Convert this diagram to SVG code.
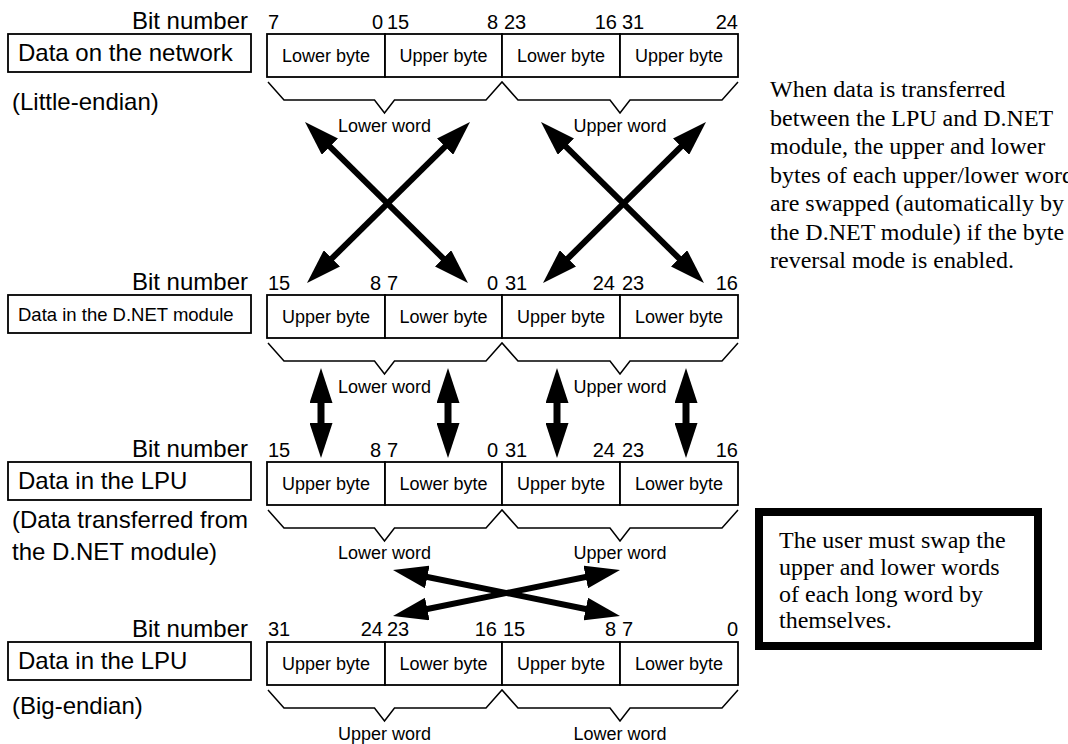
<svg xmlns="http://www.w3.org/2000/svg" width="1068" height="744" viewBox="0 0 1068 744">
<style>
  .lbl{font-family:"Liberation Sans",Arial,sans-serif;font-size:24px;fill:#000}
  .lbls{font-family:"Liberation Sans",Arial,sans-serif;font-size:18.5px;fill:#000}
  .num{font-family:"Liberation Sans",Arial,sans-serif;font-size:20px;fill:#000}
  .cell{font-family:"Liberation Sans",Arial,sans-serif;font-size:18px;fill:#000;text-anchor:middle}
  .word{font-family:"Liberation Sans",Arial,sans-serif;font-size:18px;fill:#000;text-anchor:middle}
  .note{font-family:"Liberation Serif","Times New Roman",serif;font-size:24px;fill:#000}
  .box{fill:#fff;stroke:#000;stroke-width:1.8}
  .brace{fill:none;stroke:#000;stroke-width:1.5;stroke-linejoin:miter}
  .arr{stroke:#000;stroke-width:6;fill:none;marker-start:url(#ah);marker-end:url(#ah)}
  .arrv{stroke:#000;stroke-width:7;fill:none;marker-start:url(#ah);marker-end:url(#ah)}
</style>
<defs>
  <marker id="ah" viewBox="0 0 35 23" refX="10" refY="11.5" markerWidth="35" markerHeight="23" markerUnits="userSpaceOnUse" orient="auto-start-reverse">
    <path d="M0,0 L35,11.5 L0,23 Z" fill="#000"/>
  </marker>
  <g id="cells">
    <rect class="box" x="267" y="0" width="118" height="43"/>
    <rect class="box" x="385" y="0" width="117" height="43"/>
    <rect class="box" x="502" y="0" width="118" height="43"/>
    <rect class="box" x="620" y="0" width="118" height="43"/>
  </g>
  <path id="braces" class="brace" d="M268,48 L284,66 L374.5,66 L384.5,79 L394.5,66 L486,66 L502,48 L518,66 L610,66 L620,79 L630,66 L722,66 L738,48"/>
</defs>

<!-- Row 1 -->
<g id="row1">
  <text class="lbl" x="248" y="29" text-anchor="end">Bit number</text>
  <rect class="box" x="8" y="34" width="243" height="38"/>
  <text class="lbl" x="18" y="61">Data on the network</text>
  <text class="lbl" x="12" y="110">(Little-endian)</text>
  <use href="#cells" transform="translate(0,34)"/>
  <text class="num" x="268" y="29">7</text><text class="num" x="383" y="29" text-anchor="end">0</text>
  <text class="num" x="387" y="29">15</text><text class="num" x="498" y="29" text-anchor="end">8</text>
  <text class="num" x="504" y="29">23</text><text class="num" x="617" y="29" text-anchor="end">16</text>
  <text class="num" x="622" y="29">31</text><text class="num" x="738" y="29" text-anchor="end">24</text>
  <text class="cell" x="326" y="62">Lower byte</text>
  <text class="cell" x="443.5" y="62">Upper byte</text>
  <text class="cell" x="561" y="62">Lower byte</text>
  <text class="cell" x="679" y="62">Upper byte</text>
  <use href="#braces" transform="translate(0,34)"/>
  <text class="word" x="384.5" y="132">Lower word</text>
  <text class="word" x="620" y="132">Upper word</text>
</g>

<!-- Row 2 -->
<g id="row2">
  <text class="lbl" x="248" y="290" text-anchor="end">Bit number</text>
  <rect class="box" x="8" y="295" width="243" height="38"/>
  <text class="lbls" x="18" y="321">Data in the D.NET module</text>
  <use href="#cells" transform="translate(0,295)"/>
  <text class="num" x="268" y="290">15</text><text class="num" x="381" y="290" text-anchor="end">8</text>
  <text class="num" x="387" y="290">7</text><text class="num" x="498" y="290" text-anchor="end">0</text>
  <text class="num" x="505" y="290">31</text><text class="num" x="615" y="290" text-anchor="end">24</text>
  <text class="num" x="622" y="290">23</text><text class="num" x="738" y="290" text-anchor="end">16</text>
  <text class="cell" x="326" y="323">Upper byte</text>
  <text class="cell" x="443.5" y="323">Lower byte</text>
  <text class="cell" x="561" y="323">Upper byte</text>
  <text class="cell" x="679" y="323">Lower byte</text>
  <use href="#braces" transform="translate(0,295)"/>
  <text class="word" x="384.5" y="393">Lower word</text>
  <text class="word" x="620" y="393">Upper word</text>
</g>

<!-- Row 3 -->
<g id="row3">
  <text class="lbl" x="248" y="457" text-anchor="end">Bit number</text>
  <rect class="box" x="8" y="462" width="243" height="38"/>
  <text class="lbl" x="18" y="489">Data in the LPU</text>
  <text class="lbl" x="12" y="528">(Data transferred from</text>
  <text class="lbl" x="12" y="560">the D.NET module)</text>
  <use href="#cells" transform="translate(0,462)"/>
  <text class="num" x="268" y="457">15</text><text class="num" x="381" y="457" text-anchor="end">8</text>
  <text class="num" x="387" y="457">7</text><text class="num" x="498" y="457" text-anchor="end">0</text>
  <text class="num" x="505" y="457">31</text><text class="num" x="615" y="457" text-anchor="end">24</text>
  <text class="num" x="622" y="457">23</text><text class="num" x="738" y="457" text-anchor="end">16</text>
  <text class="cell" x="326" y="490">Upper byte</text>
  <text class="cell" x="443.5" y="490">Lower byte</text>
  <text class="cell" x="561" y="490">Upper byte</text>
  <text class="cell" x="679" y="490">Lower byte</text>
  <use href="#braces" transform="translate(0,462)"/>
  <text class="word" x="384.5" y="559">Lower word</text>
  <text class="word" x="620" y="559">Upper word</text>
</g>

<!-- Row 4 -->
<g id="row4">
  <text class="lbl" x="248" y="637" text-anchor="end">Bit number</text>
  <rect class="box" x="8" y="642" width="243" height="38"/>
  <text class="lbl" x="18" y="669">Data in the LPU</text>
  <text class="lbl" x="12" y="714">(Big-endian)</text>
  <use href="#cells" transform="translate(0,642)"/>
  <text class="num" x="268" y="636">31</text><text class="num" x="383" y="636" text-anchor="end">24</text>
  <text class="num" x="387" y="636">23</text><text class="num" x="497" y="636" text-anchor="end">16</text>
  <text class="num" x="503" y="636">15</text><text class="num" x="616" y="636" text-anchor="end">8</text>
  <text class="num" x="622" y="636">7</text><text class="num" x="738" y="636" text-anchor="end">0</text>
  <text class="cell" x="326" y="670">Upper byte</text>
  <text class="cell" x="443.5" y="670">Lower byte</text>
  <text class="cell" x="561" y="670">Upper byte</text>
  <text class="cell" x="679" y="670">Lower byte</text>
  <use href="#braces" transform="translate(0,642)"/>
  <text class="word" x="384.5" y="740">Upper word</text>
  <text class="word" x="620" y="740">Lower word</text>
</g>

<!-- Notes -->
<g id="note1">
  <text class="note" x="770" y="97">When data is transferred</text>
  <text class="note" x="770" y="125.5">between the LPU and D.NET</text>
  <text class="note" x="770" y="154">module, the upper and lower</text>
  <text class="note" x="770" y="182.5">bytes of each upper/lower word</text>
  <text class="note" x="770" y="211">are swapped (automatically by</text>
  <text class="note" x="770" y="239.5">the D.NET module) if the byte</text>
  <text class="note" x="770" y="268">reversal mode is enabled.</text>
</g>
<g id="note2">
  <rect x="759" y="512" width="279" height="134" fill="#fff" stroke="#000" stroke-width="8"/>
  <text class="note" x="779" y="548">The user must swap the</text>
  <text class="note" x="779" y="575">upper and lower words</text>
  <text class="note" x="779" y="602">of each long word by</text>
  <text class="note" x="779" y="628">themselves.</text>
</g>

<!-- Connectors -->
<g id="connectors">
  <line class="arr" x1="322.8" y1="139.6" x2="450.2" y2="265.4"/>
  <line class="arr" x1="452.2" y1="139.6" x2="324.8" y2="265.4"/>
  <line class="arr" x1="558.8" y1="139.6" x2="686.2" y2="265.4"/>
  <line class="arr" x1="688.2" y1="139.6" x2="560.8" y2="265.4"/>
  <line class="arrv" x1="321" y1="393" x2="321" y2="433"/>
  <line class="arrv" x1="448" y1="393" x2="448" y2="433"/>
  <line class="arrv" x1="557" y1="393" x2="557" y2="433"/>
  <line class="arrv" x1="686" y1="393" x2="686" y2="433"/>
  <line class="arr" x1="417.5" y1="575" x2="595.5" y2="611"/>
  <line class="arr" x1="417.5" y1="611" x2="595.5" y2="575"/>
</g>
</svg>
